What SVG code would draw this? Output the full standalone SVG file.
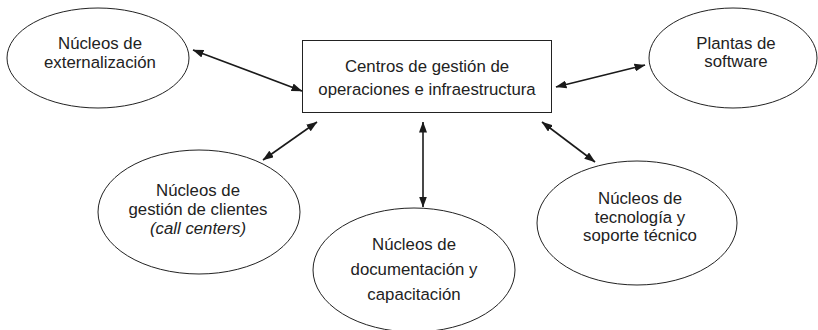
<svg xmlns="http://www.w3.org/2000/svg" width="818" height="330" viewBox="0 0 818 330">
<style>
.shape{fill:#fff;stroke:#222;stroke-width:1}
.t{font-family:"Liberation Sans",Arial,sans-serif;font-size:16.8px;fill:#222;text-anchor:middle}
.it{font-style:italic}
.c{stroke:#1a1a1a;stroke-width:1.6;fill:none;marker-start:url(#ah);marker-end:url(#ah)}
</style>
<defs>
<marker id="ah" viewBox="0 0 11 8" refX="10.5" refY="4" markerWidth="11" markerHeight="8" markerUnits="userSpaceOnUse" orient="auto-start-reverse">
<path d="M0,0 L11,4 L0,8 z" fill="#1a1a1a"/>
</marker>
</defs>
<rect width="818" height="330" fill="#fff"/>
<g id="connectors">
<line class="c" x1="193" y1="50" x2="302" y2="91"/>
<line class="c" x1="317" y1="122" x2="263" y2="160"/>
<line class="c" x1="423" y1="122" x2="423" y2="207"/>
<line class="c" x1="556" y1="87" x2="645" y2="65"/>
<line class="c" x1="542" y1="122" x2="595" y2="162"/>
</g>
<g id="externalizacion">
<ellipse class="shape" cx="98" cy="58" rx="91" ry="50"/>
<text class="t" x="100" y="49">Núcleos de</text>
<text class="t" x="100" y="68">externalización</text>
</g>
<g id="centros">
<rect class="shape" x="302.5" y="40.5" width="249" height="72"/>
<text class="t" x="427" y="72">Centros de gestión de</text>
<text class="t" x="427" y="95">operaciones e infraestructura</text>
</g>
<g id="plantas">
<ellipse class="shape" cx="733" cy="58" rx="84" ry="50"/>
<text class="t" x="736" y="49">Plantas de</text>
<text class="t" x="736" y="67">software</text>
</g>
<g id="clientes">
<ellipse class="shape" cx="199" cy="212" rx="101" ry="62"/>
<text class="t" x="198" y="196">Núcleos de</text>
<text class="t" x="198" y="215">gestión de clientes</text>
<text class="t it" x="198" y="234">(call centers)</text>
</g>
<g id="documentacion">
<ellipse class="shape" cx="414" cy="270" rx="101" ry="62"/>
<text class="t" x="414" y="250">Núcleos de</text>
<text class="t" x="414" y="275">documentación y</text>
<text class="t" x="414" y="300">capacitación</text>
</g>
<g id="tecnologia">
<ellipse class="shape" cx="637" cy="223" rx="100" ry="62"/>
<text class="t" x="640" y="204">Núcleos de</text>
<text class="t" x="640" y="223">tecnología y</text>
<text class="t" x="640" y="241">soporte técnico</text>
</g>
</svg>
